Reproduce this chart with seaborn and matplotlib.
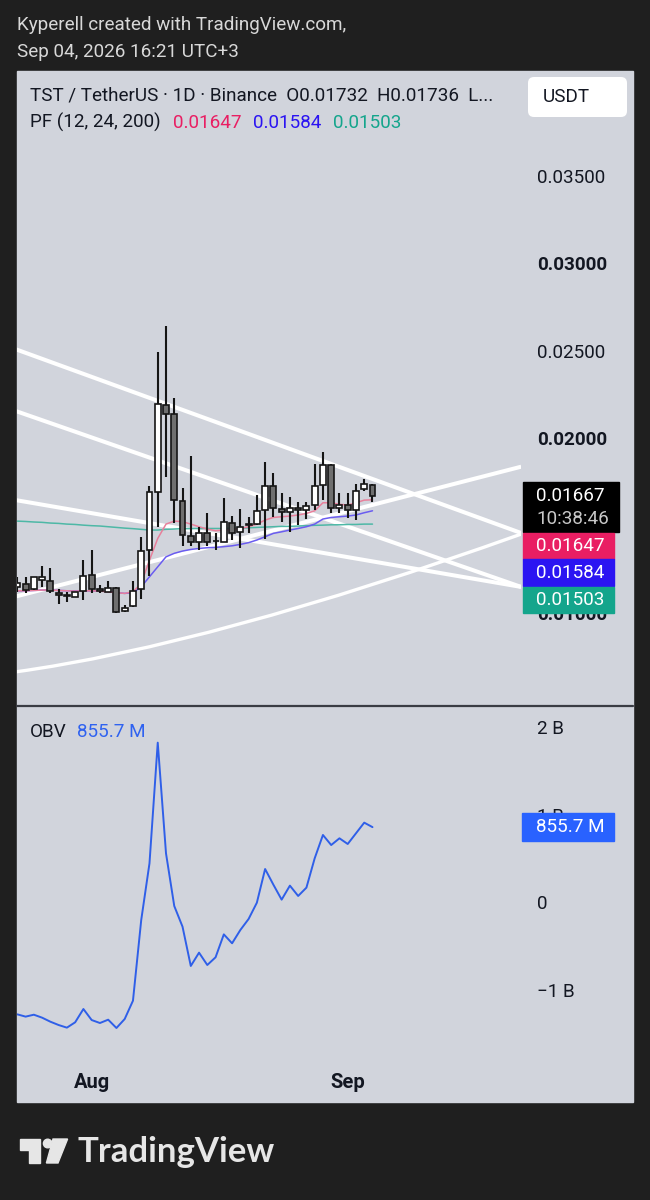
import numpy as np
import matplotlib
matplotlib.use('Agg')
import matplotlib.pyplot as plt
from matplotlib.patches import Rectangle, FancyBboxPatch, Polygon, Circle, PathPatch
from matplotlib.path import Path
import seaborn as sns

# TST / USDT daily candles, Jul 23 -> Sep 04
opens = [0.01150, 0.01163, 0.01135, 0.01188, 0.01182, 0.01116, 0.01101, 0.01093, 0.01127, 0.01215,
         0.01139, 0.01122, 0.01144, 0.01011, 0.01040, 0.01135, 0.01360, 0.01693, 0.02188, 0.02135,
         0.01642, 0.01441, 0.01407, 0.01459, 0.01411, 0.01407, 0.01516, 0.01464, 0.01504, 0.01508,
         0.01588, 0.01727, 0.01592, 0.01575, 0.01601, 0.01588, 0.01617, 0.01731, 0.01845, 0.01598,
         0.01617, 0.01588, 0.01708, 0.01732]
highs = [0.01207, 0.01207, 0.01207, 0.01270, 0.01255, 0.01135, 0.01122, 0.01122, 0.01302, 0.01360,
         0.01158, 0.01184, 0.01150, 0.01045, 0.01182, 0.01436, 0.01727, 0.02493, 0.02640, 0.02226,
         0.01716, 0.01897, 0.01489, 0.01573, 0.01455, 0.01655, 0.01554, 0.01592, 0.01550, 0.01674,
         0.01861, 0.01802, 0.01683, 0.01664, 0.01636, 0.01636, 0.01851, 0.01918, 0.01851, 0.01687,
         0.01683, 0.01737, 0.01763, 0.01736]
lows = [0.01122, 0.01116, 0.01131, 0.01150, 0.01116, 0.01051, 0.01061, 0.01089, 0.01074, 0.01116,
        0.01116, 0.01120, 0.01001, 0.01007, 0.01032, 0.01078, 0.01211, 0.01489, 0.01779, 0.01512,
        0.01382, 0.01382, 0.01360, 0.01382, 0.01360, 0.01407, 0.01417, 0.01369, 0.01455, 0.01503,
        0.01421, 0.01550, 0.01522, 0.01461, 0.01503, 0.01535, 0.01588, 0.01645, 0.01569, 0.01569,
        0.01541, 0.01531, 0.01699, 0.01636]
closes = [0.01169, 0.01131, 0.01203, 0.01203, 0.01125, 0.01101, 0.01097, 0.01118, 0.01213, 0.01139,
          0.01127, 0.01141, 0.01005, 0.01030, 0.01125, 0.01356, 0.01689, 0.02194, 0.02137, 0.01645,
          0.01445, 0.01407, 0.01455, 0.01407, 0.01409, 0.01518, 0.01459, 0.01493, 0.01508, 0.01583,
          0.01725, 0.01598, 0.01575, 0.01601, 0.01586, 0.01613, 0.01725, 0.01845, 0.01601, 0.01617,
          0.01588, 0.01699, 0.01737, 0.01667]

# PF (12, 24, 200) averages as drawn
ma12 = [0.01127, 0.01127, 0.01129, 0.01131, 0.01131, 0.01129, 0.01127, 0.01125, 0.01127, 0.01127,
        0.01125, 0.01121, 0.01116, 0.01112, 0.01121, 0.01169, 0.01302, 0.01426, 0.01508, 0.01525,
        0.01522, 0.01508, 0.01493, 0.01480, 0.01470, 0.01474, 0.01478, 0.01483, 0.01493, 0.01508,
        0.01531, 0.01546, 0.01550, 0.01554, 0.01560, 0.01569, 0.01584, 0.01630, 0.01630, 0.01621,
        0.01617, 0.01630, 0.01645, 0.01647]
ma24 = [0.01127, 0.01127, 0.01129, 0.01131, 0.01131, 0.01129, 0.01127, 0.01127, 0.01127, 0.01127,
        0.01125, 0.01123, 0.01116, 0.01112, 0.01116, 0.01150, 0.01207, 0.01264, 0.01321, 0.01341,
        0.01354, 0.01363, 0.01369, 0.01373, 0.01375, 0.01379, 0.01384, 0.01392, 0.01402, 0.01417,
        0.01436, 0.01455, 0.01464, 0.01474, 0.01483, 0.01493, 0.01508, 0.01537, 0.01546, 0.01550,
        0.01554, 0.01560, 0.01573, 0.01584]
ma200 = [0.01525, 0.01523, 0.01520, 0.01518, 0.01514, 0.01512, 0.01508, 0.01506, 0.01502, 0.01499,
         0.01497, 0.01493, 0.01489, 0.01485, 0.01482, 0.01478, 0.01474, 0.01474, 0.01478, 0.01480,
         0.01482, 0.01482, 0.01483, 0.01483, 0.01483, 0.01483, 0.01485, 0.01485, 0.01487, 0.01489,
         0.01491, 0.01493, 0.01495, 0.01495, 0.01497, 0.01499, 0.01501, 0.01502, 0.01504, 0.01504,
         0.01506, 0.01506, 0.01508, 0.01508]

# on balance volume, in billions
obv = [-1.284, -1.310, -1.288, -1.322, -1.368, -1.406, -1.436, -1.375, -1.223, -1.349,
       -1.383, -1.345, -1.440, -1.337, -1.128, -0.206, 0.442, 1.821, 0.556, -0.046,
       -0.282, -0.731, -0.579, -0.720, -0.632, -0.370, -0.472, -0.320, -0.194, -0.008,
       0.377, 0.198, 0.027, 0.187, 0.069, 0.164, 0.499, 0.766, 0.651, 0.728,
       0.663, 0.785, 0.907, 0.8557]

# user drawings: (bar, price) anchors
trend_a = ([-0.3, 61.0], [0.02509, 0.01457])
trend_b = ([-0.3, 61.0], [0.02156, 0.01149])
trend_c = ([-0.3, 61.0], [0.01646, 0.01149])
trend_d = ([-0.3, 61.0], [0.01093, 0.01836])
curve_e = ([-0.3, 23.5, 61.0], [0.00663, 0.00817, 0.01451])

price_ticks = [0.010, 0.015, 0.020, 0.025, 0.030, 0.035]
bold_ticks = [0.010, 0.020, 0.030]
obv_ticks = [2, 1, 0, -1]
obv_tick_labels = ['2 B', '1 B', '0', '\u22121 B']
month_ticks = [9, 40]
month_labels = ['Aug', 'Sep']

PANEL = '#d1d4dc'
DARK = '#1f1f1f'
INK = '#131722'
PINK = '#e91e63'
VIOLET = '#2b14f2'
TEAL = '#14a58c'
BLUE = '#2962ff'
FS = 13.6

sns.set_style('white')
plt.rcParams['font.family'] = ['Roboto', 'DejaVu Sans']

W, H = 650, 1200
fig = plt.figure(figsize=(6.5, 12), dpi=100, facecolor=DARK)


def px_axes(l, t, r, b):
    a = fig.add_axes([l / W, 1 - b / H, (r - l) / W, (b - t) / H])
    a.set_facecolor('none')
    return a


# background layer in pixel coordinates
bg = px_axes(0, 0, W, H)
bg.set_xlim(0, W)
bg.set_ylim(H, 0)
bg.axis('off')
bg.add_patch(Rectangle((17, 70.5), 616, 1031.5, color=PANEL, zorder=0))
bg.plot([17, 633], [706, 706], color='#3a3c44', lw=1.6)

bg.text(17, 25, 'Kyperell created with TradingView.com,', color='#d8d8d8', fontsize=FS, va='center')
bg.text(17, 52, 'Sep 04, 2026 16:21 UTC+3', color='#d8d8d8', fontsize=FS, va='center')
bg.text(30, 96, 'TST / TetherUS \u00b7 1D \u00b7 Binance  O0.01732  H0.01736  L...', color=INK, fontsize=FS, va='center')
bg.text(30, 122.5, 'PF (12, 24, 200)', color=INK, fontsize=FS, va='center')
bg.text(173, 122.5, '0.01647', color=PINK, fontsize=FS, va='center')
bg.text(253, 122.5, '0.01584', color=VIOLET, fontsize=FS, va='center')
bg.text(332.5, 122.5, '0.01503', color=TEAL, fontsize=FS, va='center')
bg.add_patch(FancyBboxPatch((528, 77), 99, 40, boxstyle='round,pad=0,rounding_size=6', fc='white', ec='none'))
bg.text(543, 97, 'USDT', color=INK, fontsize=FS, va='center')
bg.text(30, 732, 'OBV', color=INK, fontsize=FS, va='center')
bg.text(77, 732, '855.7 M', color='#2f62f0', fontsize=FS, va='center')

# TradingView logo
bg.add_patch(Polygon([(19.5, 1139), (40.2, 1139), (40.2, 1163), (29, 1163), (29, 1150), (19.5, 1150)], color='#e6e6e6'))
bg.add_patch(Circle((47.7, 1143.5), 4.3, color='#e6e6e6'))
bg.add_patch(Polygon([(53, 1139), (67.6, 1139), (58, 1163), (46.4, 1163)], color='#e6e6e6'))
bg.text(78, 1152, 'TradingView', color='#e6e6e6', fontsize=25, fontweight='bold', family='Lato', va='center')

# price pane
ax = px_axes(17, 70.5, 521, 705)
bars = np.arange(len(opens))
o, hi, lo, c = (np.array(v) for v in (opens, highs, lows, closes))
up = c >= o

for tx, ty in (trend_a, trend_b, trend_c, trend_d):
    ax.plot(tx, ty, color='white', lw=2.9, solid_capstyle='butt', zorder=1)
curve = Path(list(zip(*curve_e)), [Path.MOVETO, Path.CURVE3, Path.CURVE3])
ax.add_patch(PathPatch(curve, fill=False, ec='white', lw=2.4, zorder=1))

sns.lineplot(x=bars, y=ma200, ax=ax, color='#4db8a6', lw=1.1, zorder=2)
sns.lineplot(x=bars, y=ma24, ax=ax, color='#6a5cf0', lw=1.1, zorder=2)
sns.lineplot(x=bars, y=ma12, ax=ax, color='#e8809b', lw=1.1, zorder=2)

ax.vlines(bars, lo, hi, color='#151515', lw=1.5, zorder=3)
ax.bar(bars, np.maximum(np.abs(c - o), 0.00003), bottom=np.minimum(o, c), width=0.72,
       color=np.where(up, '#ffffff', '#6f6f6f'), edgecolor='#151515', linewidth=1.2, zorder=4)

ax.set_xlim(-0.04, 60.98)
ax.set_ylim(0.004743, 0.041)
ax.yaxis.tick_right()
ax.set_yticks(price_ticks)
ax.set_yticklabels([f'{t:.5f}' for t in price_ticks])
for lab, t in zip(ax.get_yticklabels(), price_ticks):
    if t in bold_ticks:
        lab.set_fontweight('bold')
ax.tick_params(axis='y', length=0, pad=11.5, labelsize=FS, labelcolor=INK)
ax.set_xticks([])
ax.set_xlabel('')
ax.set_ylabel('')
for s in ax.spines.values():
    s.set_visible(False)

# OBV pane
axo = px_axes(17, 707, 521, 1060)
sns.lineplot(x=bars, y=obv, ax=axo, color='#2f5fe8', lw=1.4)
axo.set_xlim(-0.04, 60.98)
axo.set_ylim(-1.8057, 2.2286)
axo.yaxis.tick_right()
axo.set_yticks(obv_ticks)
axo.set_yticklabels(obv_tick_labels)
axo.set_xticks(month_ticks)
axo.set_xticklabels(month_labels, fontweight='bold')
axo.tick_params(axis='y', length=0, pad=11.5, labelsize=FS, labelcolor=INK)
axo.tick_params(axis='x', length=0, pad=9, labelsize=14.5, labelcolor=INK)
axo.set_xlabel('')
axo.set_ylabel('')
for s in axo.spines.values():
    s.set_visible(False)

# price scale labels on top
top = px_axes(0, 0, W, H)
top.set_xlim(0, W)
top.set_ylim(H, 0)
top.axis('off')
top.add_patch(Rectangle((522.7, 481.7), 96.3, 50, color='black'))
top.text(536, 496, '0.01667', color='white', fontsize=FS, va='center')
top.text(536, 519, '10:38:46', color='#c8c8c8', fontsize=FS, va='center')
for y0, y1, col, txt in ((532.7, 558.7, PINK, '0.01647'), (559, 586, VIOLET, '0.01584'),
                         (586.7, 613.3, TEAL, '0.01503')):
    top.add_patch(Rectangle((522.7, y0), 91.6, y1 - y0, color=col))
    top.text(536, (y0 + y1) / 2, txt, color='white', fontsize=FS, va='center')
top.add_patch(Rectangle((522, 812.7), 91.6, 28, color=BLUE))
top.text(536, 827, '855.7 M', color='white', fontsize=FS, va='center')

fig.savefig('out.png', dpi=100, facecolor=DARK)
